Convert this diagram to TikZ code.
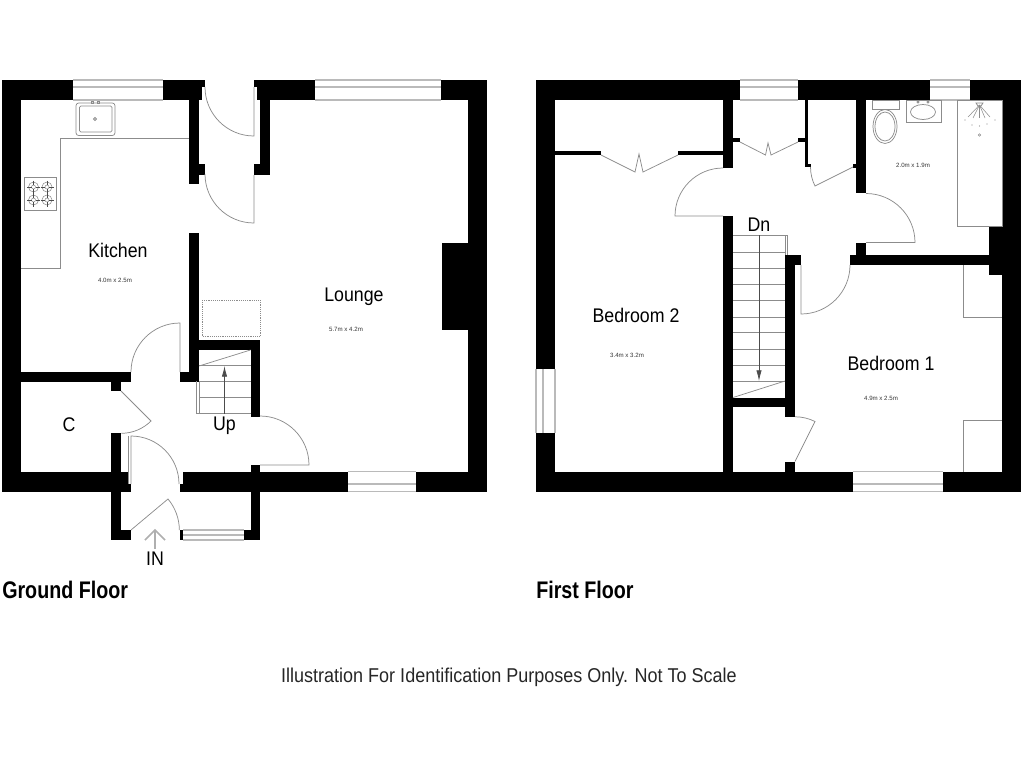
\documentclass[tikz,border=0pt]{standalone}
\usepackage{fontspec}
\setmainfont{Liberation Sans}
\newfontfamily\plannarrow[FakeStretch=0.9]{Liberation Sans}
\newfontfamily\plantitle[FakeStretch=0.82]{Liberation Sans}
\usetikzlibrary{arrows.meta}
\definecolor{planline}{gray}{0.55}
\tikzset{
    wall/.style={fill=black},
    fine/.style={draw=planline, line width=0.55pt},
    pane/.style={draw=planline!60, line width=0.8pt},
    roomlabel/.style={font=\plannarrow\fontsize{14.8}{16}\selectfont, inner sep=0pt, text=black},
    dimlabel/.style={font=\fontsize{4.6}{5}\selectfont, inner sep=0pt, text=black!80},
    floorlabel/.style={font=\plantitle\bfseries\fontsize{18}{20}\selectfont, inner sep=0pt, anchor=west}
}
\begin{document}
\begin{tikzpicture}[x=0.75pt,y=-0.75pt]
                \useasboundingbox (0,0) rectangle (1024,768);

                %Ground floor walls
                \fill[wall] (1.5,80) rectangle (73,100);
                \fill[wall] (163,80) rectangle (205,87);
                \fill[wall] (163,87) rectangle (202,100);
                \fill[wall] (254,80) rectangle (315,87);
                \fill[wall] (257,87) rectangle (315,100);
                \fill[wall] (441,80) rectangle (487,100);
                \fill[wall] (1.5,80) rectangle (21,491.5);
                \fill[wall] (467.5,80) rectangle (487,491.5);
                \fill[wall] (441.5,243) rectangle (468,329.5);
                \fill[wall] (189,100) rectangle (199,184);
                \fill[wall] (199,164) rectangle (205,175);
                \fill[wall] (260,100) rectangle (270,175);
                \fill[wall] (254,164) rectangle (260,175);
                \fill[wall] (189,232.5) rectangle (199,381.5);
                \fill[wall] (21,371.5) rectangle (131,381.5);
                \fill[wall] (111,381.5) rectangle (121,391);
                \fill[wall] (180,371.5) rectangle (199,381.5);
                \fill[wall] (199,340) rectangle (260,349.5);
                \fill[wall] (250.5,340) rectangle (260,417);
                \fill[wall] (111,433) rectangle (121,540);
                \fill[wall] (1.5,471.5) rectangle (128,484);
                \fill[wall] (1.5,484) rectangle (131,491.5);
                \fill[wall] (183,471.5) rectangle (348,491.5);
                \fill[wall] (180,484) rectangle (183,491.5);
                \fill[wall] (416,471.5) rectangle (487,491.5);
                \fill[wall] (250.5,465) rectangle (260,540);
                \fill[wall] (111,530) rectangle (131,540);
                \fill[wall] (180,530) rectangle (183,540);
                \fill[wall] (244,530) rectangle (260,540);

                %First floor walls
                \fill[wall] (536,80) rectangle (740,100);
                \fill[wall] (798,80) rectangle (930,100);
                \fill[wall] (970,80) rectangle (1021,100);
                \fill[wall] (536,80) rectangle (555,369);
                \fill[wall] (536,433) rectangle (555,491.5);
                \fill[wall] (1002,80) rectangle (1021,491.5);
                \fill[wall] (536,471.5) rectangle (853,491.5);
                \fill[wall] (943,471.5) rectangle (1021,491.5);
                \fill[wall] (555,151) rectangle (601,155);
                \fill[wall] (678,151) rectangle (723,155);
                \fill[wall] (723,100) rectangle (733,168);
                \fill[wall] (723,216) rectangle (733,471.5);
                \fill[wall] (733,138) rectangle (740,142);
                \fill[wall] (798,138) rectangle (805,142);
                \fill[wall] (804.5,100) rectangle (808,167);
                \fill[wall] (808,164) rectangle (811,167);
                \fill[wall] (853,164) rectangle (856,168);
                \fill[wall] (856,100) rectangle (866,193);
                \fill[wall] (856,242.5) rectangle (866,255);
                \fill[wall] (850,255) rectangle (1002,265);
                \fill[wall] (989,226) rectangle (1002,275);
                \fill[wall] (785,255) rectangle (801,265);
                \fill[wall] (785,255) rectangle (795,417);
                \fill[wall] (733,397.5) rectangle (785,407);
                \fill[wall] (785,461.5) rectangle (795,471.5);

                %Windows
                \foreach \wy in {80,87,100} {
                    \draw[pane] (73,\wy) -- (163,\wy);
                    \draw[pane] (315,\wy) -- (441,\wy);
                    \draw[pane] (740,\wy) -- (798,\wy);
                    \draw[pane] (930,\wy) -- (970,\wy);
                }
                \foreach \wy in {471.5,484,491.5} {
                    \draw[pane] (348,\wy) -- (416,\wy);
                    \draw[pane] (853,\wy) -- (943,\wy);
                }
                \foreach \wy in {530,535,540} {
                    \draw[pane] (183,\wy) -- (244,\wy);
                }
                \foreach \wx in {536,543,555} {
                    \draw[pane] (\wx,369) -- (\wx,433);
                }

                %Ground floor doors
                \draw[fine] (254,87) -- (254,136) arc[start angle=90,end angle=180,radius=49];
                \draw[fine] (254,175) -- (254,223) arc[start angle=90,end angle=180,radius=49];
                \draw[fine] (180,372) -- (180,323) arc[start angle=270,end angle=180,radius=49];
                \draw[fine] (260,465) -- (309,465) arc[start angle=0,end angle=-90,radius=49];
                \draw[fine] (131,484) -- (131,436) arc[start angle=270,end angle=360,radius=48];
                \draw[fine] (128,436) -- (128,484);
                \draw[fine] (131,530) -- (168,499) arc[start angle=320,end angle=360,radius=48.5];
                \draw[fine] (121,391) -- (151,421) arc[start angle=45,end angle=90,radius=42];

                %First floor doors
                \draw[fine] (723,216) -- (675,216) arc[start angle=180,end angle=270,radius=48];
                \draw[fine] (866,242.5) -- (915,242.5) arc[start angle=0,end angle=-90,radius=49];
                \draw[fine] (801,265) -- (801,314) arc[start angle=90,end angle=0,radius=49];
                \draw[fine] (795,461.5) -- (815,421.5) arc[start angle=296.6,end angle=270,radius=44.7];
                \draw[fine] (853,167) -- (815,186) arc[start angle=153.4,end angle=180,radius=42.5];
                \draw[fine] (601,155) -- (635,172) -- (639,154) -- (643,172) -- (678,155);
                \draw[fine] (798,142) -- (771,155) -- (768,143) -- (765.5,155) -- (740,142);

                %Ground floor stairs
                \foreach \ty in {365,381,397,413.5} {
                    \draw[fine] (199,\ty) -- (250.5,\ty);
                }
                \draw[fine] (199,366) -- (250.5,350);
                \draw[fine] (199,381) -- (199,413.5);
                \draw[fine] (196,381) -- (196,413.5) -- (199,413.5);
                \draw[fine, -{Latex[length=8pt,width=4pt]}, black!70] (224.5,413.5) -- (224.5,366);
                \draw[planline, densely dotted, line width=0.4pt] (202,300) rectangle (260,336.5);

                %First floor stairs
                \foreach \ty in {235,252,268,284.5,300.5,317,332.5,349,365.5,381} {
                    \draw[fine] (733,\ty) -- (785,\ty);
                }
                \draw[fine] (733,397.5) -- (785,381);
                \draw[fine] (785,235) -- (785,255);
                \draw[fine] (787.5,235) -- (787.5,255);
                \draw[fine] (785,235) -- (787.5,235);
                \draw[fine, -{Latex[length=8pt,width=4pt]}, black!70] (759,235) -- (759,381);

                %Kitchen units
                \draw[fine, rounded corners=2pt] (76,103) rectangle (115,135.5);
                \draw[fine, rounded corners=1pt] (79.5,106) rectangle (112,132);
                \draw[fine] (95,119) circle[radius=1.5];
                \draw[fine] (91,101) rectangle (93,103);
                \draw[fine] (97,101) rectangle (99,103);
                \draw[fine] (189,138.5) -- (60,138.5) -- (60,268) -- (21,268);
                \draw[fine] (24,177) rectangle (56.5,210);
                \foreach \bx in {33.5,47} {
                    \foreach \by in {187,200} {
                        \draw[fine, line width=0.4pt] (\bx,\by) circle[radius=5];
                        \draw[fine, line width=0.4pt] (\bx,\by) circle[radius=2];
                        \draw[fine, black!70, line width=0.4pt] (\bx-6.5,\by) -- (\bx-2,\by) (\bx+2,\by) -- (\bx+6.5,\by);
                        \draw[fine, black!70, line width=0.4pt] (\bx,\by-6.5) -- (\bx,\by-2) (\bx,\by+2) -- (\bx,\by+6.5);
                    }
                }

                %Bathroom
                \draw[fine] (872.5,100) rectangle (899,109);
                \draw[fine] (885,126.5) ellipse[x radius=12,y radius=17];
                \draw[fine] (885,126.5) ellipse[x radius=10,y radius=14.5];
                \draw[fine] (906.5,100) rectangle (941,122.5);
                \draw[fine] (923,112) ellipse[x radius=12.5,y radius=7.5];
                \draw[fine] (918,102) circle[radius=1.2];
                \draw[fine] (928,102) circle[radius=1.2];
                \draw[fine] (957,100) rectangle (1002,226);
                \draw[fine] (976,103) -- (983,103) -- (981,106) -- (978,106) -- cycle;
                \foreach \sx/\sy in {968/117,973/118,979.5/118,985/118,990/117} {
                    \draw[fine, line width=0.4pt] (979.5,105) -- (\sx,\sy);
                }
                \foreach \sx/\sy in {965/120,972/125,979.5/126,987/124,995/120} {
                    \fill[planline] (\sx,\sy) circle[radius=0.6];
                }
                \draw[fine, line width=0.4pt] (979.5,135) circle[radius=1.3];

                %Bedroom 1 units
                \draw[fine] (963,265) -- (963,317) -- (1002,317);
                \draw[fine] (1002,420) -- (963,420) -- (963,471.5);

                %Entrance arrow
                \draw[planline!70, line width=1.2pt] (145,540) -- (155,530) -- (165,540);
                \draw[planline!70, line width=0.8pt] (155,530) -- (155,549);

                %Nodes
                \node[roomlabel] at (118,250)   (kitchen)  {Kitchen};
                \node[roomlabel] at (354,297)   (lounge)   {Lounge};
                \node[roomlabel] at (69,424.5)  (cupboard) {C};
                \node[roomlabel] at (224.5,426) (up)       {Up};
                \node[roomlabel] at (155,559)   (in)       {IN};
                \node[roomlabel] at (636,315)   (bedtwo)   {Bedroom 2};
                \node[roomlabel] at (891,363)   (bedone)   {Bedroom 1};
                \node[roomlabel] at (759,225)   (dn)       {Dn};
                \node[dimlabel]  at (115,280)   (kitchendim) {4.0m x 2.5m};
                \node[dimlabel]  at (346,329.5) (loungedim)  {5.7m x 4.2m};
                \node[dimlabel]  at (627,355)   (bedtwodim)  {3.4m x 3.2m};
                \node[dimlabel]  at (881,398)   (bedonedim)  {4.9m x 2.5m};
                \node[dimlabel]  at (913,165.5) (bathdim)    {2.0m x 1.9m};
                \node[floorlabel] at (2,590)    (ground)   {Ground Floor};
                \node[floorlabel] at (536,590)  (first)    {First Floor};
                \node[font=\plannarrow\fontsize{15}{16}\selectfont, inner sep=0pt, text=black!85] at (509,677) (note)
                    {Illustration For Identification Purposes Only. Not To Scale};
\end{tikzpicture}
\end{document}
